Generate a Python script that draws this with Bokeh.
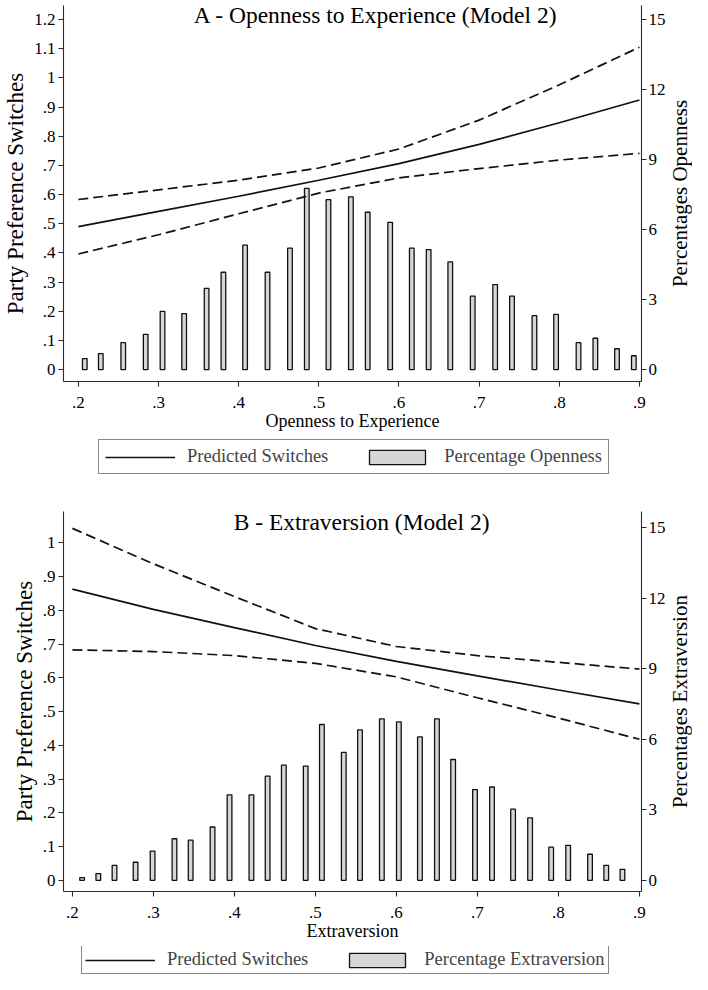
import math
from bokeh.plotting import figure
from bokeh.models import (Range1d, LinearAxis, FixedTicker, Legend, LegendItem, Label)
from bokeh.layouts import column
from bokeh.embed import file_html
from bokeh.resources import INLINE

# ---------------- data ----------------
curve_x = [0.2, 0.3, 0.4, 0.5, 0.6, 0.7, 0.8, 0.9]

open_pred = [0.490, 0.542, 0.594, 0.649, 0.706, 0.772, 0.846, 0.924]
open_upper = [0.583, 0.616, 0.649, 0.691, 0.756, 0.855, 0.976, 1.105]
open_lower = [0.396, 0.462, 0.534, 0.605, 0.657, 0.689, 0.718, 0.741]

open_bar_x = [0.208, 0.228, 0.256, 0.284, 0.305, 0.332, 0.360, 0.381, 0.408, 0.436,
              0.464, 0.485, 0.512, 0.540, 0.561, 0.589, 0.616, 0.637, 0.664, 0.692,
              0.720, 0.741, 0.769, 0.796, 0.824, 0.845, 0.872, 0.893]
open_bar_pct = [0.47, 0.68, 1.15, 1.51, 2.49, 2.40, 3.48, 4.17, 5.33, 4.17,
                5.20, 7.76, 7.28, 7.40, 6.74, 6.31, 5.20, 5.14, 4.61, 3.15,
                3.64, 3.15, 2.31, 2.36, 1.15, 1.34, 0.89, 0.59]

extra_pred = [0.863, 0.803, 0.749, 0.696, 0.649, 0.606, 0.564, 0.523]
extra_upper = [1.043, 0.938, 0.841, 0.746, 0.693, 0.666, 0.646, 0.626]
extra_lower = [0.683, 0.678, 0.666, 0.643, 0.603, 0.541, 0.481, 0.418]

extra_bar_x = [0.212, 0.232, 0.252, 0.278, 0.299, 0.326, 0.346, 0.373, 0.394, 0.421,
               0.441, 0.461, 0.488, 0.508, 0.535, 0.555, 0.582, 0.603, 0.629, 0.650,
               0.670, 0.697, 0.718, 0.744, 0.765, 0.791, 0.812, 0.839, 0.859, 0.879]
extra_bar_pct = [0.12, 0.29, 0.64, 0.77, 1.24, 1.77, 1.71, 2.27, 3.64, 3.64,
                 4.43, 4.90, 4.86, 6.63, 5.44, 6.40, 6.87, 6.74, 6.10, 6.87,
                 5.14, 3.86, 3.97, 3.03, 2.66, 1.41, 1.49, 1.11, 0.64, 0.47]

x_ticks = [0.2, 0.3, 0.4, 0.5, 0.6, 0.7, 0.8, 0.9]
x_tick_labels = [".2", ".3", ".4", ".5", ".6", ".7", ".8", ".9"]

left_ticks_a = [0, 0.1, 0.2, 0.3, 0.4, 0.5, 0.6, 0.7, 0.8, 0.9, 1, 1.1, 1.2]
left_labels_a = ["0", ".1", ".2", ".3", ".4", ".5", ".6", ".7", ".8", ".9", "1", "1.1", "1.2"]
left_ticks_b = [0, 0.1, 0.2, 0.3, 0.4, 0.5, 0.6, 0.7, 0.8, 0.9, 1]
left_labels_b = ["0", ".1", ".2", ".3", ".4", ".5", ".6", ".7", ".8", ".9", "1"]
right_ticks = [0, 3, 6, 9, 12, 15]

FONT = "Liberation Serif"
INK = "#111111"
AXIS = "#2b2b2b"
BAR_FILL = "#d6d6d6"
BAR_W = 0.0058
DASH = "10 5"


def style_axis(ax, label_size="21px", std=3, lstd=2):
    ax.axis_line_color = AXIS
    ax.axis_line_width = 1.1
    ax.major_tick_line_color = AXIS
    ax.major_tick_line_width = 1.1
    ax.major_tick_out = 5
    ax.major_tick_in = 0
    ax.minor_tick_line_color = None
    ax.major_label_text_font = FONT
    ax.major_label_text_font_size = "17px"
    ax.major_label_text_color = "black"
    ax.axis_label_text_font = FONT
    ax.axis_label_text_font_size = label_size
    ax.axis_label_text_font_style = "normal"
    ax.axis_label_text_color = "black"
    ax.major_label_standoff = std
    ax.axis_label_standoff = lstd


def make_panel(title, title_x, title_y, x_label, left_ticks, left_labels, right_label,
               pred, upper, lower, bar_x, bar_pct, xr, yr, k, height, borders):
    bl, br, bt, bb = borders
    frame_h = height - bt - bb
    p = figure(width=692, height=height, x_range=Range1d(*xr), y_range=Range1d(*yr),
               output_backend="svg", toolbar_location=None,
               min_border_left=bl, min_border_right=br, min_border_top=bt, min_border_bottom=bb)
    p.extra_y_ranges = {"pct": Range1d(yr[0] * k, yr[1] * k)}
    p.xgrid.visible = False
    p.ygrid.visible = False
    p.outline_line_color = None
    p.background_fill_color = "white"
    p.border_fill_color = "white"

    p.vbar(x=bar_x, top=bar_pct, bottom=0, width=BAR_W, y_range_name="pct",
           fill_color=BAR_FILL, line_color=INK, line_width=1.3)
    p.line(curve_x, pred, line_color=INK, line_width=1.7)
    p.line(curve_x, upper, line_color=INK, line_width=1.7, line_dash=DASH)
    p.line(curve_x, lower, line_color=INK, line_width=1.7, line_dash=DASH)

    xa = p.xaxis[0]
    xa.ticker = FixedTicker(ticks=x_ticks)
    xa.major_label_overrides = dict(zip(x_ticks, x_tick_labels))
    xa.axis_label = x_label
    style_axis(xa, label_size="18px", std=10, lstd=0)

    ya = p.yaxis[0]
    ya.ticker = FixedTicker(ticks=left_ticks)
    ya.major_label_overrides = dict(zip(left_ticks, left_labels))
    ya.axis_label = "Party Preference Switches"
    style_axis(ya, label_size="23px", std=3, lstd=3)

    ra = LinearAxis(y_range_name="pct", ticker=FixedTicker(ticks=right_ticks))
    style_axis(ra, std=2, lstd=0)
    p.add_layout(ra, "right")
    # right-hand axis title, reading bottom to top as in the original
    p.add_layout(Label(x=11, y=frame_h / 2, x_units="screen", y_units="screen",
                       text=right_label, angle=math.pi / 2,
                       text_align="center", text_baseline="middle",
                       text_font=FONT, text_font_size="21px", text_color="black"), "right")

    p.add_layout(Label(x=title_x, y=title_y, text=title,
                       text_align="center", text_baseline="alphabetic",
                       text_font=FONT, text_font_size="23.5px", text_color="black"))
    return p


def make_legend(bar_label, height, loc, pred, bar_x, bar_pct, pad):
    # legend strip; its sample renderers reuse the panel data and sit hidden behind the legend box
    lf = figure(width=692, height=height, x_range=Range1d(0, 1), y_range=Range1d(-0.5, 9),
                output_backend="svg", toolbar_location=None,
                x_axis_type=None, y_axis_type=None,
                min_border_left=0, min_border_right=0, min_border_top=0, min_border_bottom=0)
    lf.xgrid.visible = False
    lf.ygrid.visible = False
    lf.outline_line_color = None
    solid = lf.line(curve_x, pred, line_color=INK, line_width=1.7)
    bars = lf.vbar(x=bar_x, top=bar_pct, bottom=0, width=BAR_W,
                   fill_color=BAR_FILL, line_color=INK, line_width=1.3)
    legend = Legend(items=[LegendItem(label="Predicted Switches", renderers=[solid]),
                           LegendItem(label=bar_label, renderers=[bars])],
                    orientation="horizontal", location=loc,
                    label_text_font=FONT, label_text_font_size="18.5px",
                    glyph_width=70, glyph_height=18, label_standoff=12, spacing=34,
                    padding=pad, margin=0, border_line_color=INK, border_line_width=1.2,
                    background_fill_color="white", background_fill_alpha=1.0)
    lf.add_layout(legend, "center")
    return lf


pa = make_panel("A - Openness to Experience (Model 2)", 0.571, 1.214, "Openness to Experience",
                left_ticks_a, left_labels_a, "Percentages Openness",
                open_pred, open_upper, open_lower, open_bar_x, open_bar_pct,
                (0.18147, 0.90257), (-0.041, 1.248), 15 / 1.2, 438, (63, 33, 5, 57))
la = make_legend("Percentage Openness", 36, (35, 0), open_pred, open_bar_x, open_bar_pct, 6)

pb = make_panel("B - Extraversion (Model 2)", 0.557, 1.062, "Extraversion",
                left_ticks_b, left_labels_b, "Percentages Extraversion",
                extra_pred, extra_upper, extra_lower, extra_bar_x, extra_bar_pct,
                (0.18903, 0.90253), (-0.033, 1.093), 15 / 1.045, 472, (63, 33, 37, 55))
lb = make_legend("Percentage Extraversion", 28, (18, 0), extra_pred, extra_bar_x, extra_bar_pct, 3)

layout = column(pa, la, pb, lb)
open("out.html", "w").write(file_html(layout, INLINE))
